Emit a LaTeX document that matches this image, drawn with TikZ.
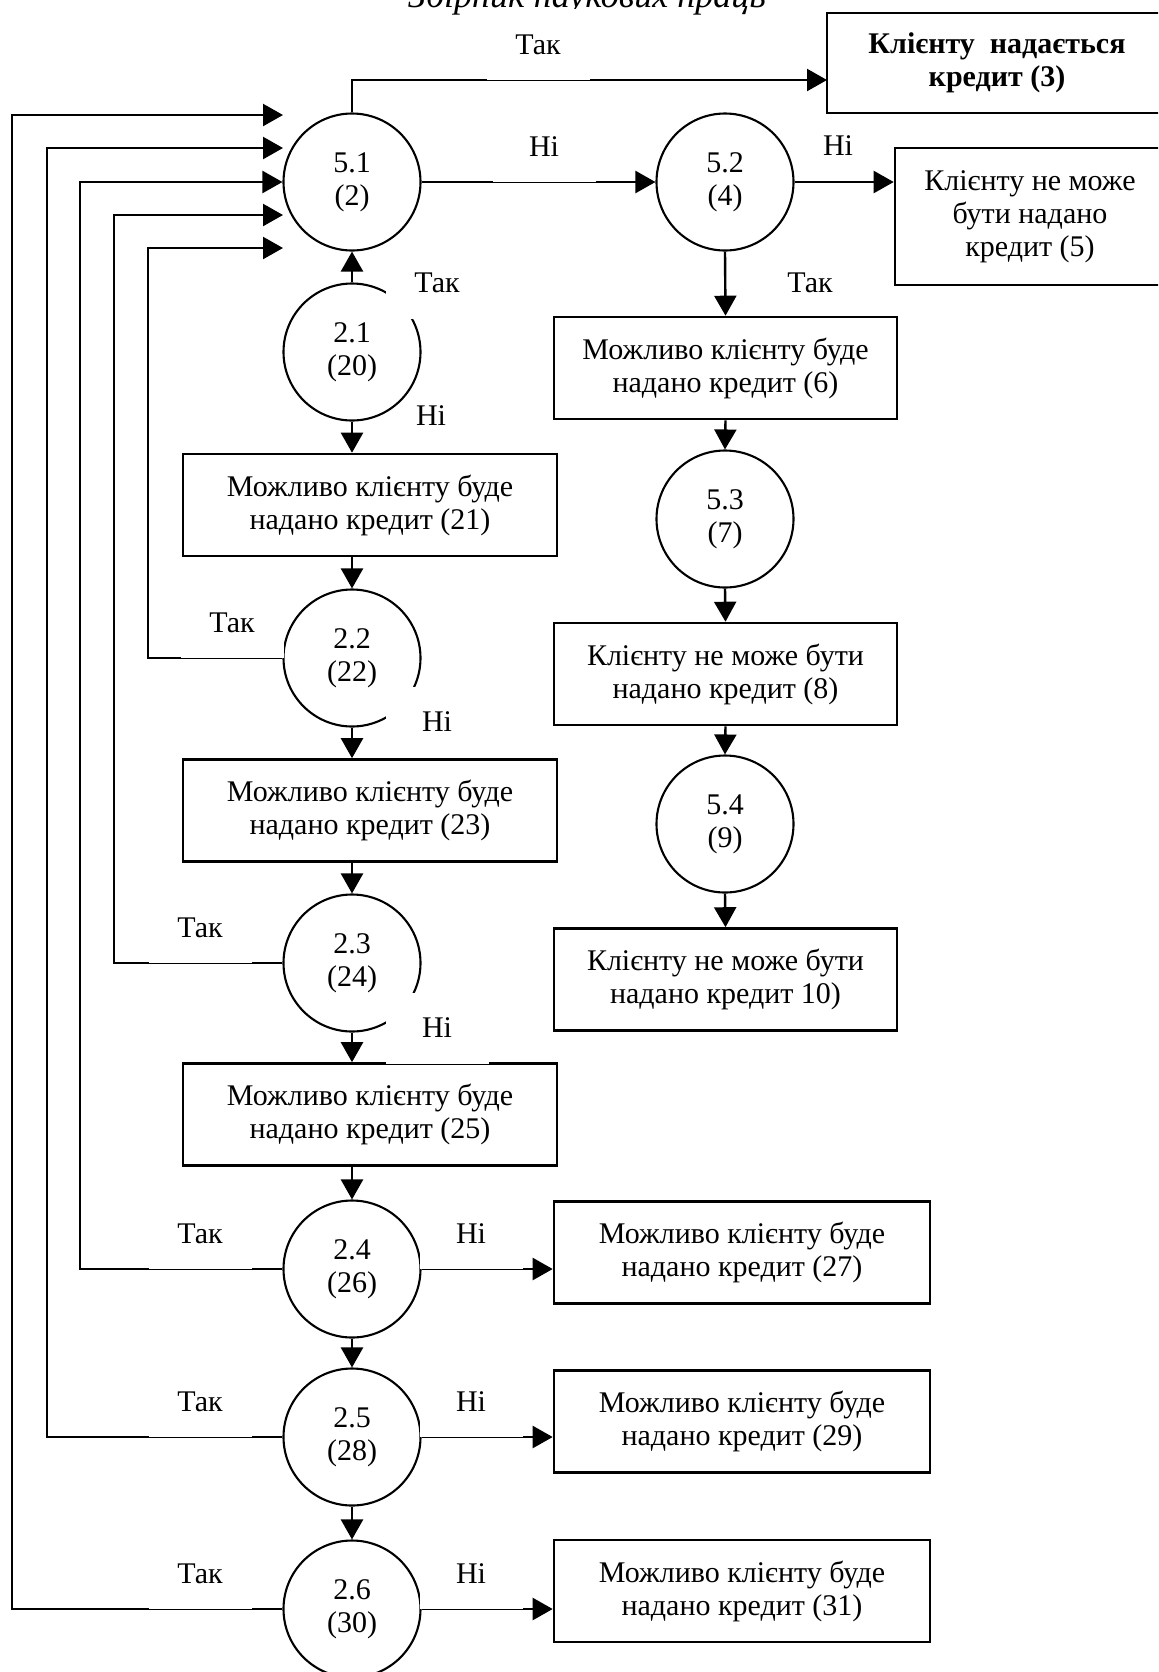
\documentclass[tikz,border=0pt]{standalone}
\usepackage{fontspec}
\setmainfont{Liberation Serif}
\usetikzlibrary{arrows.meta}

\begin{document}
\begin{tikzpicture}[x=0.5pt,y=-0.5pt,
    font=\fontsize{15}{16.5}\selectfont,
    box/.style={draw,line width=1.3pt,inner sep=0pt,align=center,minimum height=51pt},
    circ/.style={draw,circle,line width=1.05pt,minimum size=68.5pt,inner sep=0pt,align=center},
    lbl/.style={fill=white,minimum width=51.5pt,minimum height=35.5pt,inner sep=0pt},
    arr/.style={line width=1.2pt,-{Triangle[length=10pt,width=11pt]}}]
    \useasboundingbox (0,0) rectangle (1158,1672);
    \clip (0,0) rectangle (1158,1672);
    \node[anchor=base,font=\fontsize{18}{18}\selectfont\itshape] (hdr) at (587,7) {Збірник наукових праць};
    % decision circles
    \node[circ] (c51) at (352,182) {5.1\\(2)};
    \node[circ] (c52) at (725,182) {5.2\\(4)};
    \node[circ] (c53) at (725,519) {5.3\\(7)};
    \node[circ] (c54) at (725,824) {5.4\\(9)};
    \node[circ] (c21) at (352,352) {2.1\\(20)};
    \node[circ] (c22) at (352,658) {2.2\\(22)};
    \node[circ] (c23) at (352,963) {2.3\\(24)};
    \node[circ] (c24) at (352,1269) {2.4\\(26)};
    \node[circ] (c25) at (352,1437) {2.5\\(28)};
    \node[circ] (c26) at (352,1609) {2.6\\(30)};
    % result boxes
    \node[box,minimum width=170pt,minimum height=50pt,font=\fontsize{15}{16.5}\selectfont\bfseries] (ok3) at (997,63) {Клієнту\ \ надається\\кредит (3)};
    \node[box,minimum width=135pt,minimum height=68.5pt] (no5) at (1030,216.5) {Клієнту не може\\бути надано\\кредит (5)};
    \node[box,minimum width=171.5pt] (b6) at (725.5,368) {Можливо клієнту буде\\надано кредит (6)};
    \node[box,minimum width=171.5pt] (b8) at (725.5,674) {Клієнту не може бути\\надано кредит (8)};
    \node[box,minimum width=171.5pt] (b10) at (725.5,979.5) {Клієнту не може бути\\надано кредит 10)};
    \node[box,minimum width=187pt] (b21) at (370,505) {Можливо клієнту буде\\надано кредит (21)};
    \node[box,minimum width=187pt] (b23) at (370,810.5) {Можливо клієнту буде\\надано кредит (23)};
    \node[box,minimum width=187pt] (b25) at (370,1114.5) {Можливо клієнту буде\\надано кредит (25)};
    \node[box,minimum width=188pt] (b27) at (742,1252.5) {Можливо клієнту буде\\надано кредит (27)};
    \node[box,minimum width=188pt] (b29) at (742,1421.5) {Можливо клієнту буде\\надано кредит (29)};
    \node[box,minimum width=188pt] (b31) at (742,1591) {Можливо клієнту буде\\надано кредит (31)};
    % connectors
    \coordinate (t3) at (827,80);
    \draw[arr] (c51.north) |- (t3);
    \draw[arr] (c51.east) -- (c52.west);
    \draw[arr] (c52.east) -- (c52.east -| no5.west);
    \draw[arr] (c52.south) -- (b6.north);
    \draw[arr] (b6.south) -- (c53.north);
    \draw[arr] (c53.south) -- (b8.north);
    \draw[arr] (b8.south) -- (c54.north);
    \draw[arr] (c54.south) -- (b10.north);
    \draw[arr] (c21.north) -- (c51.south);
    \draw[arr] (c21.south) -- (c21.south |- b21.north);
    \draw[arr] (b21.south -| c22.north) -- (c22.north);
    \draw[arr] (c22.south) -- (c22.south |- b23.north);
    \draw[arr] (b23.south -| c23.north) -- (c23.north);
    \draw[arr] (c23.south) -- (c23.south |- b25.north);
    \draw[arr] (b25.south -| c24.north) -- (c24.north);
    \draw[arr] (c24.south) -- (c25.north);
    \draw[arr] (c25.south) -- (c26.north);
    \draw[arr] (c24.east) -- (c24.east -| b27.west);
    \draw[arr] (c25.east) -- (c25.east -| b29.west);
    \draw[arr] (c26.east) -- (c26.east -| b31.west);
    % loops back to 5.1
    \foreach \n/\y in {1/115,2/148,4/215,5/248}
      \coordinate (in\n) at (283,\y);
    \coordinate (in3) at (c51.west);
    \foreach \c/\n/\x/\y in {26/1/12/115,25/2/47/148,24/3/80/182,23/4/114/215,22/5/148/248}
      \draw[arr] (c\c.west) -| (\x,\y) -- (in\n);
    % labels
    \node[lbl] (l1) at (538,44.5) {Так};
    \node[lbl] (l2) at (544,146.5) {Ні};
    \node (l3) at (838,146) {Ні};
    \node[lbl] (l4) at (437,283) {Так};
    \node (l5) at (810,283) {Так};
    \node (l6) at (431,416) {Ні};
    \node[lbl] (l7) at (232,622.5) {Так};
    \node[lbl] (l8) at (437,722) {Ні};
    \node[lbl] (l9) at (200,927.5) {Так};
    \node[lbl] (l10) at (437,1028) {Ні};
    \node[lbl] (l11) at (200,1233.5) {Так};
    \node[lbl] (l12) at (471,1233.5) {Ні};
    \node[lbl] (l13) at (200,1401.5) {Так};
    \node[lbl] (l14) at (471,1401.5) {Ні};
    \node[lbl] (l15) at (200,1573.5) {Так};
    \node[lbl] (l16) at (471,1573.5) {Ні};
\end{tikzpicture}
\end{document}
